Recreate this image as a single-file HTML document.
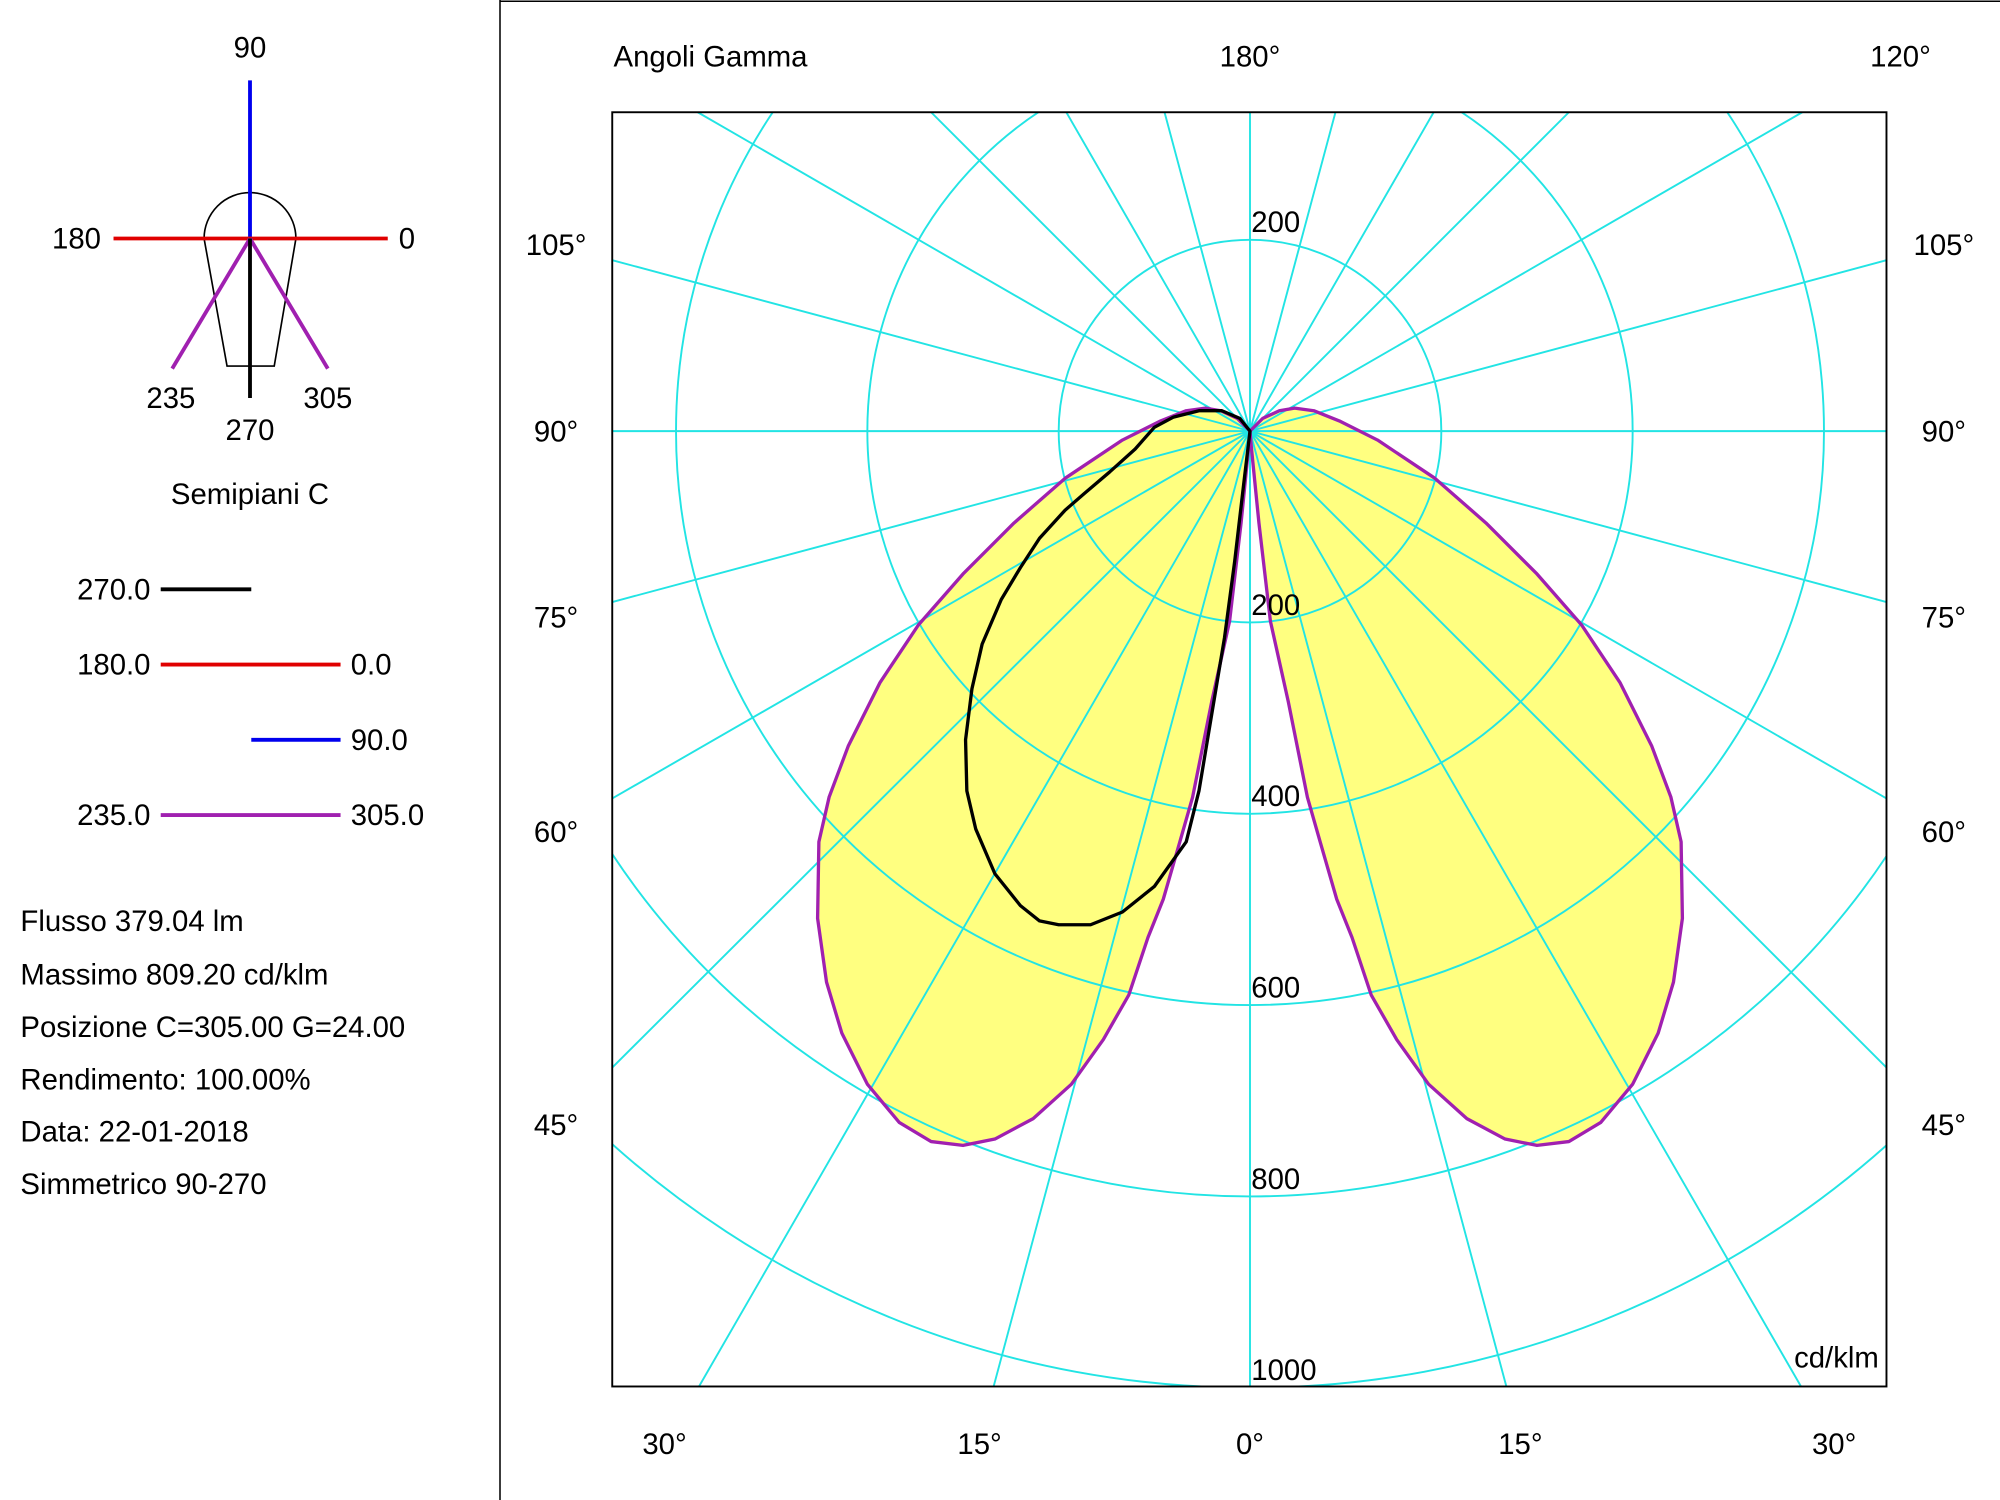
<!DOCTYPE html>
<html><head><meta charset="utf-8"><style>
html,body{margin:0;padding:0;background:#fff;width:2000px;height:1500px;overflow:hidden;position:relative}
svg{display:block;position:absolute;left:0;top:0}
text{font-family:"Liberation Sans",Arial,sans-serif;font-size:23px;fill:#000}
</style></head><body>
<svg width="2000" height="1500" viewBox="0 0 1568 1176" xmlns="http://www.w3.org/2000/svg">
<defs><clipPath id="c"><rect x="480" y="88" width="999" height="999"/></clipPath></defs>
<rect width="1568" height="1176" fill="#fff"/>
<line x1="392" y1="0" x2="392" y2="1176" stroke="#000" stroke-width="1.2"/>
<line x1="392" y1="1" x2="1568" y2="1" stroke="#000" stroke-width="1.2"/>

<path d="M160,187 A36,36 0 0 1 232,187 L215,287 L178,287 Z" fill="none" stroke="#000" stroke-width="1.3"/>
<line x1="196" y1="63" x2="196" y2="187" stroke="#0000ee" stroke-width="3"/>
<line x1="89" y1="187" x2="304" y2="187" stroke="#e00000" stroke-width="3"/>
<line x1="196" y1="187" x2="135" y2="289" stroke="#a020b0" stroke-width="3"/>
<line x1="196" y1="187" x2="257" y2="289" stroke="#a020b0" stroke-width="3"/>
<line x1="196" y1="187" x2="196" y2="312" stroke="#000" stroke-width="3"/>
<text x="196" y="45" text-anchor="middle">90</text>
<text x="60" y="195" text-anchor="middle">180</text>
<text x="319" y="195" text-anchor="middle">0</text>
<text x="134" y="320" text-anchor="middle">235</text>
<text x="257" y="320" text-anchor="middle">305</text>
<text x="196" y="345" text-anchor="middle">270</text>
<text x="196" y="395" text-anchor="middle">Semipiani C</text>

<text x="118" y="470" text-anchor="end">270.0</text>
<line x1="126" y1="462" x2="197" y2="462" stroke="#000" stroke-width="3"/>
<text x="118" y="529" text-anchor="end">180.0</text>
<line x1="126" y1="521" x2="267" y2="521" stroke="#e00000" stroke-width="3"/>
<text x="275" y="529">0.0</text>
<line x1="197" y1="580" x2="267" y2="580" stroke="#0000ee" stroke-width="3"/>
<text x="275" y="588">90.0</text>
<text x="118" y="647" text-anchor="end">235.0</text>
<line x1="126" y1="639" x2="267" y2="639" stroke="#a020b0" stroke-width="3"/>
<text x="275" y="647">305.0</text>

<text x="16" y="730">Flusso 379.04  lm</text>
<text x="16" y="772">Massimo 809.20  cd/klm</text>
<text x="16" y="813">Posizione C=305.00 G=24.00</text>
<text x="16" y="854">Rendimento: 100.00%</text>
<text x="16" y="895">Data: 22-01-2018</text>
<text x="16" y="936">Simmetrico 90-270</text>

<g fill="#ffff80" stroke="none">
<polygon points="980,338 990,328 1003,322 1015,320 1030,322 1050,330 1080,345 1125,375 1165,410 1205,450 1240,490 1270,535 1295,585 1310,625 1318,660 1319,720 1312,770 1300,810 1280,850 1255,880 1230,895 1205,898 1180,893 1150,877 1120,850 1095,815 1075,780 1060,735 1048,705 1035,660 1025,625 1010,550 996,487 987,410 981,350"/>
<polygon points="980,338 970,328 957,322 945,320 930,322 910,330 880,345 835,375 795,410 755,450 720,490 690,535 665,585 650,625 642,660 641,720 648,770 660,810 680,850 705,880 730,895 755,898 780,893 810,877 840,850 865,815 885,780 900,735 912,705 925,660 935,625 950,550 964,487 973,410 979,350"/>
</g>
<g stroke="#22e4e4" stroke-width="1.5" fill="none">
<g clip-path="url(#c)">
<circle cx="980" cy="338" r="150"/><circle cx="980" cy="338" r="300"/><circle cx="980" cy="338" r="450"/><circle cx="980" cy="338" r="600"/><circle cx="980" cy="338" r="750"/>
</g>
<path d="M980,338L980,1087 M980,338L1181,1087 M980,338L1412,1087 M980,338L1479,837 M980,338L1479,626 M980,338L1479,472 M980,338L1479,338 M980,338L1479,204 M980,338L1413,88 M980,338L1230,88 M980,338L1124,88 M980,338L1047,88 M980,338L980,88
M980,338L779,1087 M980,338L548,1087 M980,338L480,837 M980,338L480,626 M980,338L480,472 M980,338L480,338 M980,338L480,204 M980,338L547,88 M980,338L730,88 M980,338L836,88 M980,338L913,88"/>
</g>
<g fill="none" stroke-width="2.6" stroke-linejoin="round">
<polygon points="980,338 990,328 1003,322 1015,320 1030,322 1050,330 1080,345 1125,375 1165,410 1205,450 1240,490 1270,535 1295,585 1310,625 1318,660 1319,720 1312,770 1300,810 1280,850 1255,880 1230,895 1205,898 1180,893 1150,877 1120,850 1095,815 1075,780 1060,735 1048,705 1035,660 1025,625 1010,550 996,487 987,410 981,350" stroke="#a020b0"/>
<polygon points="980,338 970,328 957,322 945,320 930,322 910,330 880,345 835,375 795,410 755,450 720,490 690,535 665,585 650,625 642,660 641,720 648,770 660,810 680,850 705,880 730,895 755,898 780,893 810,877 840,850 865,815 885,780 900,735 912,705 925,660 935,625 950,550 964,487 973,410 979,350" stroke="#a020b0"/>
<polygon points="980,338 972,328 958,322 940,322 920,327 905,335 890,352 870,370 850,387 835,400 815,422 800,445 785,470 770,505 762,540 757,580 758,620 765,650 780,685 800,710 815,722 830,725 855,725 880,715 905,695 930,660 940,620 950,560 960,500 968,440 975,380" stroke="#000"/>
</g>
<rect x="480" y="88" width="999" height="999" fill="none" stroke="#000" stroke-width="1.5"/>

<text x="981" y="182">200</text>
<text x="981" y="482">200</text>
<text x="981" y="632">400</text>
<text x="981" y="782">600</text>
<text x="981" y="932">800</text>
<text x="981" y="1082">1000</text>
<text x="1473" y="1072" text-anchor="end">cd/klm</text>

<text x="481" y="52">Angoli Gamma</text>
<text x="980" y="52" text-anchor="middle">180°</text>
<text x="1490" y="52" text-anchor="middle">120°</text>
<text x="436" y="200" text-anchor="middle">105°</text>
<text x="436" y="346" text-anchor="middle">90°</text>
<text x="436" y="492" text-anchor="middle">75°</text>
<text x="436" y="660" text-anchor="middle">60°</text>
<text x="436" y="890" text-anchor="middle">45°</text>
<text x="1524" y="200" text-anchor="middle">105°</text>
<text x="1524" y="346" text-anchor="middle">90°</text>
<text x="1524" y="492" text-anchor="middle">75°</text>
<text x="1524" y="660" text-anchor="middle">60°</text>
<text x="1524" y="890" text-anchor="middle">45°</text>
<text x="521" y="1140" text-anchor="middle">30°</text>
<text x="768" y="1140" text-anchor="middle">15°</text>
<text x="980" y="1140" text-anchor="middle">0°</text>
<text x="1192" y="1140" text-anchor="middle">15°</text>
<text x="1438" y="1140" text-anchor="middle">30°</text>
</svg>
</body></html>
